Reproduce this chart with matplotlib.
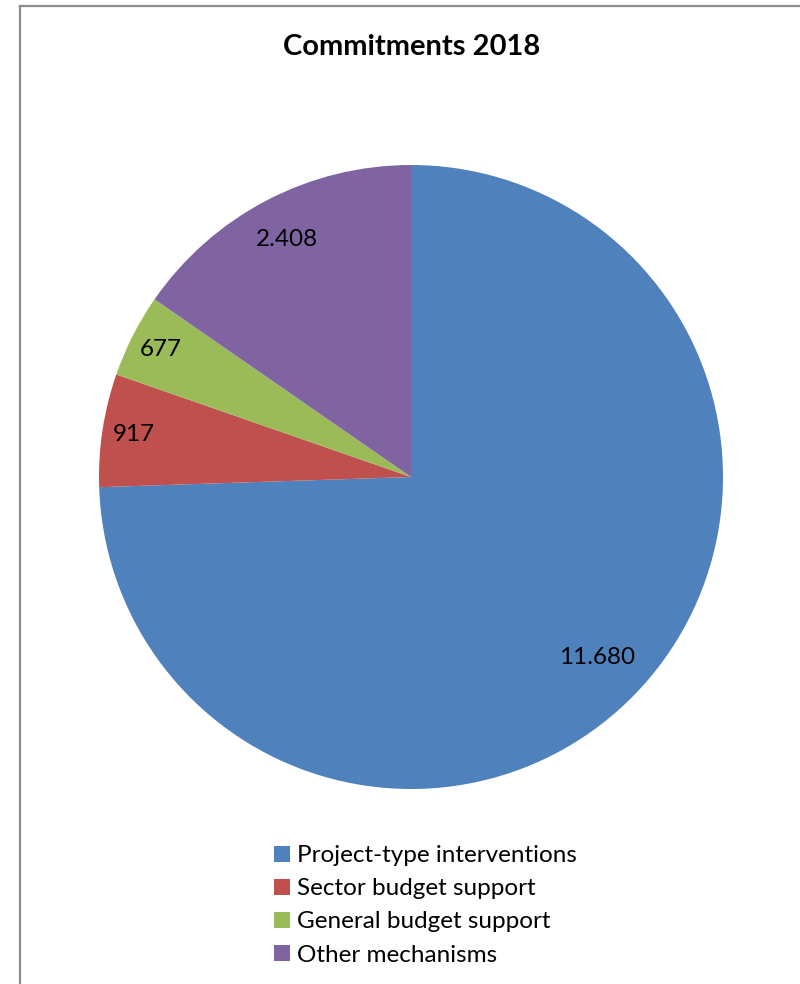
import matplotlib
matplotlib.use("Agg")
import matplotlib.pyplot as plt
from matplotlib.lines import Line2D
from matplotlib.patches import Patch
import numpy as np

plt.rcParams['font.family'] = ['Lato', 'DejaVu Sans']

title = 'Commitments 2018'
categories = ['Project-type interventions', 'Sector budget support',
              'General budget support', 'Other mechanisms']
values = [11680, 917, 677, 2408]
colors = ['#4F81BD', '#C0504D', '#9BBB59', '#8064A2']
label_radius = [0.83, 0.90, 0.90, 0.86]


def fmt(v):
    return f'{v:,}'.replace(',', '.')


fig = plt.figure(figsize=(8, 9.84), dpi=100)

# grey frame (top and left edge visible)
top = 1 - 6 / 984
left = 20 / 800
fig.add_artist(Line2D([left, left], [0, top], color='#8c8c8c', lw=1.6, transform=fig.transFigure))
fig.add_artist(Line2D([left, 1], [top, top], color='#8c8c8c', lw=1.6, transform=fig.transFigure))

cx, cy, r = 411 / 800, 1 - 477 / 984, 312
ax = fig.add_axes([cx - r / 800, cy - r / 984, 2 * r / 800, 2 * r / 984])
wedges, _ = ax.pie(values, colors=colors, startangle=90, counterclock=False,
                   radius=1.0, wedgeprops=dict(linewidth=0))
ax.set_xlim(-1, 1)
ax.set_ylim(-1, 1)
ax.set_aspect('equal')

for w, v, d in zip(wedges, values, label_radius):
    ang = np.deg2rad((w.theta1 + w.theta2) / 2)
    ax.text(d * np.cos(ang), d * np.sin(ang), fmt(v), ha='center', va='center',
            fontsize=17.5, color='black')

fig.text(412 / 800, 1 - 47 / 984, title, ha='center', va='center',
         fontsize=21, fontweight='bold')

handles = [Patch(facecolor=c, edgecolor='none') for c in colors]
fig.legend(handles, categories, loc='upper left',
           bbox_to_anchor=(262 / 800, 1 - 833 / 984), frameon=False,
           fontsize=17.5, handlelength=0.65, handleheight=0.65,
           handletextpad=0.3, labelspacing=0.5, borderpad=0)

fig.savefig('out.png', dpi=100, facecolor='white')
